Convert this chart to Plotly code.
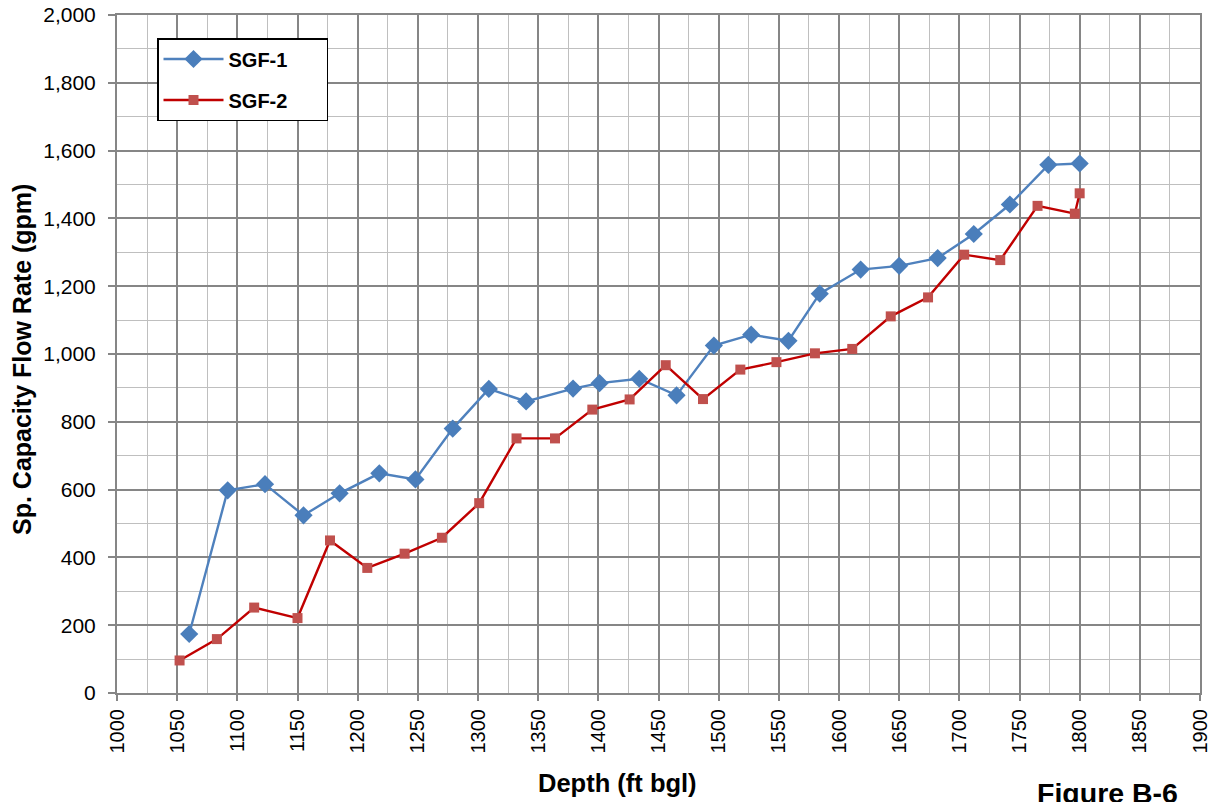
import plotly.graph_objects as go

# SGF-1 data
sgf1_depth = [1060, 1092, 1123, 1155, 1185, 1218, 1248, 1279, 1309, 1340,
              1379, 1401, 1434, 1465, 1496, 1527, 1558, 1584, 1618, 1650,
              1682, 1712, 1742, 1774, 1800]
sgf1_flow = [174, 598, 616, 524, 589, 648, 630, 780, 897, 860,
             898, 914, 927, 878, 1025, 1057, 1039, 1178, 1249, 1260,
             1283, 1354, 1441, 1558, 1562]

# SGF-2 data
sgf2_depth = [1052, 1083, 1114, 1150, 1177, 1208, 1239, 1270, 1301, 1332,
              1364, 1395, 1426, 1456, 1487, 1518, 1548, 1580, 1611, 1643,
              1674, 1704, 1734, 1765, 1796, 1800]
sgf2_flow = [96, 159, 252, 221, 450, 369, 411, 458, 560, 751,
             751, 836, 866, 967, 867, 954, 976, 1002, 1015, 1111,
             1167, 1293, 1277, 1437, 1414, 1474]

x_ticks = list(range(1000, 1901, 50))
y_ticks = list(range(0, 2001, 200))

FONT = "Arial, Liberation Sans, sans-serif"
PAD = "\u00a0" * 6

fig = go.Figure()
fig.add_trace(go.Scatter(
    x=sgf1_depth, y=sgf1_flow, mode="lines+markers", name="SGF-1" + PAD,
    legendgroup="a",
    line=dict(color="#4F81BD", width=2.4),
    marker=dict(symbol="diamond", size=14, color="#4A7EBB"),
))
fig.add_trace(go.Scatter(
    x=sgf2_depth, y=sgf2_flow, mode="lines+markers", name="SGF-2" + PAD,
    legendgroup="b",
    line=dict(color="#C00000", width=2.4),
    marker=dict(symbol="square", size=10, color="#C0504D"),
))

L, R, T, B = 117, 9, 15, 109
W, H = 1209, 802
pw, ph = W - L - R, H - T - B

def px(xp):
    return (xp - L) / pw

def py(yp):
    return (H - B - yp) / ph

fig.update_layout(
    width=W, height=H,
    margin=dict(l=L, r=R, t=T, b=B, pad=0),
    paper_bgcolor="white", plot_bgcolor="white",
    font=dict(family=FONT, color="black"),
    showlegend=True,
    legend=dict(
        x=px(157), y=py(38), xanchor="left", yanchor="top",
        bordercolor="black", borderwidth=1.5, bgcolor="white",
        font=dict(family=FONT, size=20, color="black", weight="bold"),
        tracegroupgap=12, traceorder="grouped",
        itemwidth=60,
    ),
    xaxis=dict(
        range=[1000, 1900], tickvals=x_ticks, ticktext=[str(v) for v in x_ticks],
        tickangle=-90, tickfont=dict(size=20, family=FONT),
        ticklabeloverflow="allow", automargin=False,
        showgrid=True, gridcolor="#868686", gridwidth=2,
        minor=dict(dtick=25, tick0=1000, showgrid=True, gridcolor="#BFBFBF", gridwidth=1.3),
        showline=True, linecolor="#868686", linewidth=2, mirror=True,
        ticks="outside", ticklen=6, tickcolor="#868686", tickwidth=2,
        zeroline=False,
    ),
    yaxis=dict(
        range=[0, 2000], tickvals=y_ticks, ticktext=[f"{v:,}" for v in y_ticks],
        tickfont=dict(size=21, family=FONT),
        ticklabeloverflow="allow", automargin=False,
        showgrid=True, gridcolor="#868686", gridwidth=2,
        minor=dict(dtick=100, tick0=0, showgrid=True, gridcolor="#BFBFBF", gridwidth=1.3),
        showline=True, linecolor="#868686", linewidth=2, mirror=True,
        ticks="outside", ticklen=7, tickcolor="#868686", tickwidth=2,
        ticklabelstandoff=8,
        zeroline=False,
    ),
    annotations=[
        dict(text="<b>Depth (ft bgl)</b>", xref="paper", yref="paper",
             x=px(617), y=py(783), xanchor="center", yanchor="middle",
             showarrow=False, font=dict(size=25.5, family=FONT)),
        dict(text="<b>Sp. Capacity Flow Rate (gpm)</b>", xref="paper", yref="paper",
             x=px(22), y=py(360), xanchor="center", yanchor="middle",
             textangle=-90, showarrow=False, font=dict(size=25, family=FONT)),
        dict(text="<b>Figure B-6</b>", xref="paper", yref="paper",
             x=px(1107), y=py(793), xanchor="center", yanchor="middle",
             showarrow=False, font=dict(size=28.5, family=FONT)),
    ],
)

fig.write_html("out.html")
